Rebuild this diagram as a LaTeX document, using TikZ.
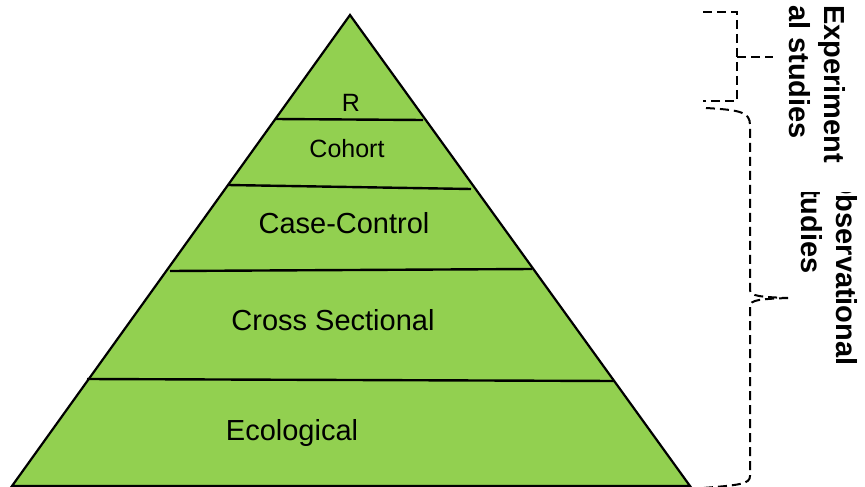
\documentclass[tikz,border=0pt]{standalone}
\usepackage{fontspec}
\setmainfont{Liberation Sans}
\definecolor{tier}{HTML}{92D050}
\begin{document}
\begin{tikzpicture}[x=1pt,y=-1pt,
  edge/.style={line width=2.2pt, line join=miter},
  divider/.style={line width=2.4pt},
  tierlabel/.style={inner sep=0pt, anchor=base, font=\fontsize{29}{35}\selectfont},
  toplabel/.style={inner sep=0pt, anchor=base, font=\fontsize{25}{30}\selectfont},
  grouplabel/.style={inner sep=0pt, anchor=north west, rotate=-90, align=left,
    font=\fontsize{29}{35}\selectfont\bfseries},
  bracket/.style={dash pattern=on 9pt off 5pt, line width=2pt}]
\useasboundingbox (0,0) rectangle (865,487);

% pyramid outline
\coordinate (apex) at (350,15);
\coordinate (bl) at (12,486);
\coordinate (br) at (690,486);
\filldraw[fill=tier, edge] (apex) -- (br) -- (bl) -- cycle;

% tier dividers
\coordinate (d1l) at (275,119); \coordinate (d1r) at (423,120);
\coordinate (d2l) at (228,185); \coordinate (d2r) at (471,189);
\coordinate (d3l) at (170,271); \coordinate (d3r) at (532,269);
\coordinate (d4l) at (87,379);  \coordinate (d4r) at (614,381);
\draw[divider] (d1l) -- (d1r);
\draw[divider] (d2l) -- (d2r);
\draw[divider] (d3l) -- (d3r);
\draw[divider] (d4l) -- (d4r);

% tier labels
\node[toplabel]  (r)      at (351,111) {R};
\node[toplabel]  (cohort) at (347,157) {Cohort};
\node[tierlabel] (cc)     at (344,233) {Case-Control};
\node[tierlabel] (cs)     at (333,330) {Cross Sectional};
\node[tierlabel] (eco)    at (292,440) {Ecological};

% experimental bracket
\draw[bracket] (703,12) -- (737,12) -- (737,101) -- (703,101);
\draw[bracket] (737,57) -- (773,57);

% observational brace
\draw[bracket] (706,108) .. controls (740,110) and (750,112) .. (750,125)
  -- (750,290) .. controls (750,296) and (760,297) .. (788,298);
\draw[bracket] (788,298) .. controls (760,299) and (750,300) .. (750,306)
  -- (750,476) .. controls (750,484) and (740,485) .. (703,488);

% group labels
\node[grouplabel] (obs) at (858,172) {Observational\\studies};
\fill[white] (778,165) rectangle (865,192);
\node[grouplabel] (exp) at (846,5) {Experiment\\al studies};
\end{tikzpicture}
\end{document}
